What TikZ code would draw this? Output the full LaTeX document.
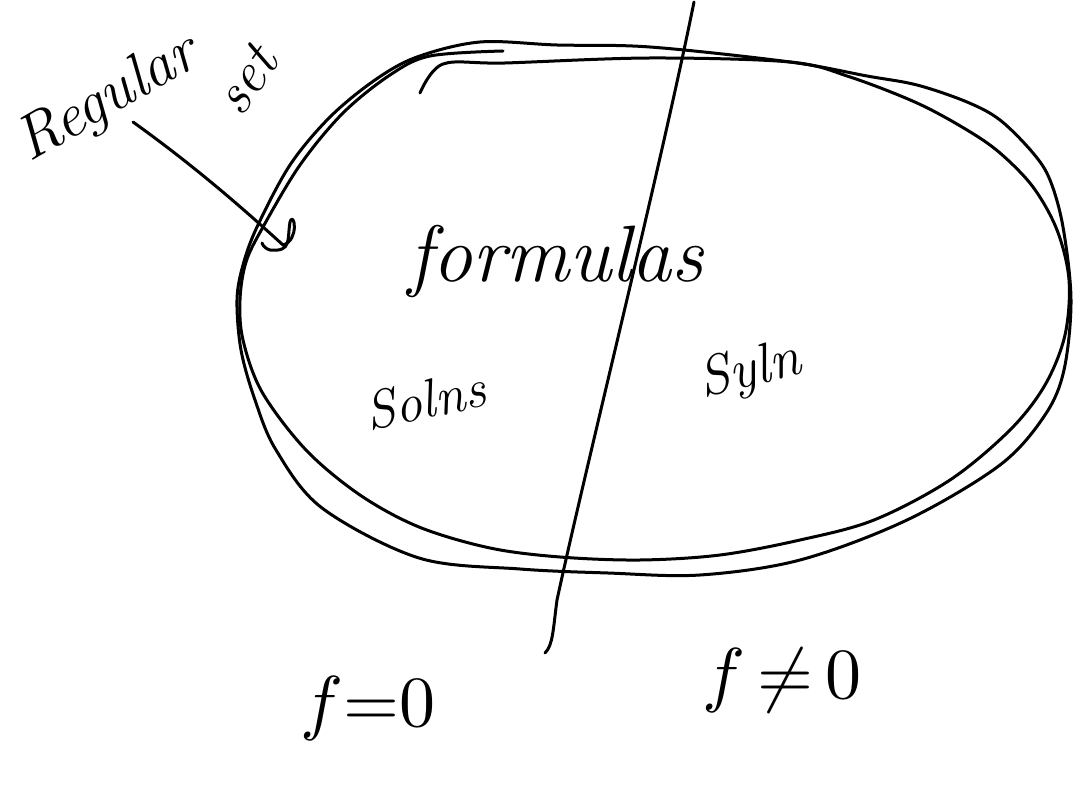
\documentclass[tikz,border=0pt]{standalone}
\usepackage{graphicx}
\usepackage{tikz}
\begin{document}
\begin{tikzpicture}[x=1pt,y=-1pt,
  ink/.style={line width=3pt, line cap=round, line join=round},
  hand/.style={inner sep=0pt, font=\itshape}]
\useasboundingbox[fill=white] (0,0) rectangle (1074,786);

% outer loop
\draw[ink] plot[smooth cycle, tension=0.55] coordinates {
 (237,300) (241,350) (255,400) (276,450) (322,508) (419,558) (520,569)
 (608,573) (700,575) (800,560) (907,520) (1000,465) (1045,415)
 (1064,370) (1071,300) (1063,227) (1050,180) (1033,153) (1000,120)
 (967,102) (917,85) (867,76) (790,62) (650,47) (557,45) (480,42)
 (417,57) (375,80) (330,117) (290,165) (257,227) (243,265)};

% inner stroke (with the hook at the top)
\draw[ink] plot[smooth, tension=0.55] coordinates {
 (420,93) (443,64) (505,63) (650,58) (790,62) (850,77) (917,103)
 (967,130) (1000,153) (1033,187) (1057,230) (1069,280) (1065,335)
 (1045,385) (1010,430) (950,480) (874,520) (800,540) (720,555)
 (640,560) (560,557) (490,548) (419,527) (360,495) (306,450)
 (262,392) (243,340) (240,300) (246,262) (263,227) (300,165)
 (343,113) (390,75) (430,56) (503,51)};

% dividing line
\coordinate (ltop) at (694,2);
\coordinate (lbot) at (545,653);
\draw[ink] (ltop) .. controls (660,170) and (585,470) .. (557,600)
  .. controls (553,630) and (553,645) .. (lbot);

% texts
\node[hand, font=\itshape\fontsize{62}{62}\selectfont, rotate=30] (reg) at (108,100) {Regular};
\node[hand, font=\itshape\fontsize{58}{58}\selectfont, rotate=55] (set) at (246,80) {set};
\node[hand, font=\itshape\fontsize{80}{80}\selectfont] (form) at (556,262) {formulas};
\node[hand, font=\itshape\fontsize{54}{54}\selectfont, rotate=12] (solns) at (425,400) {Solns};
\node[hand, font=\itshape\fontsize{56}{56}\selectfont, rotate=14] (syln) at (750,372) {Syln};
\node[inner sep=0pt] (fz) at (368,708) {\scalebox{7.2}{$f{=}0$}};
\node[inner sep=0pt] (fnz) at (782,680) {\scalebox{7.2}{$f\,{\neq}\,0$}};

% arrow from "Regular set" to the boundary
\coordinate (a1) at (133,122);
\coordinate (a2) at (283,245);
\coordinate (a3) at (262,243);
\draw[ink] (a1) .. controls (200,170) and (250,215) .. (a2)
  .. controls (300,240) and (294,210) .. (290,222)
  .. controls (287,240) and (292,252) .. (270,250)
  .. controls (266,249) and (263,246) .. (a3);
\end{tikzpicture}
\end{document}
